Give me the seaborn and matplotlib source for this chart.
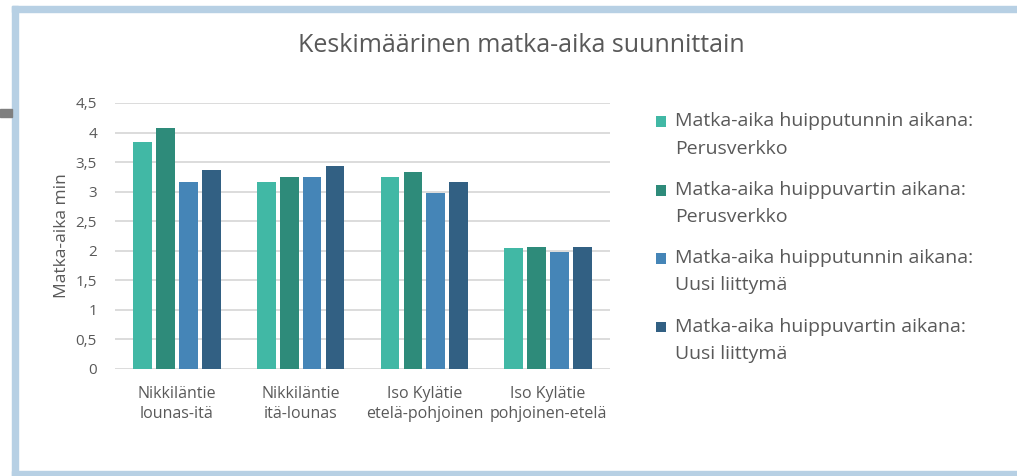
import pandas as pd
import seaborn as sns
import matplotlib.pyplot as plt
import matplotlib.ticker as mtick
from matplotlib.patches import Rectangle
from matplotlib.legend_handler import HandlerPatch

# data
categories = ["Nikkiläntie\nlounas-itä", "Nikkiläntie\nitä-lounas",
              "Iso Kylätie\netelä-pohjoinen", "Iso Kylätie\npohjoinen-etelä"]
series_names = ["Matka-aika huipputunnin aikana:\nPerusverkko",
                "Matka-aika huippuvartin aikana:\nPerusverkko",
                "Matka-aika huipputunnin aikana:\nUusi liittymä",
                "Matka-aika huippuvartin aikana:\nUusi liittymä"]
peak_hour_base = [3.84, 3.16, 3.24, 2.05]
peak_quarter_base = [4.07, 3.24, 3.34, 2.07]
peak_hour_new = [3.17, 3.24, 2.98, 1.98]
peak_quarter_new = [3.36, 3.43, 3.16, 2.06]
colors = ["#41b8a5", "#2e8b7a", "#4585b7", "#326083"]

df = pd.DataFrame({
    "Suunta": categories * 4,
    "Sarja": [s for s in series_names for _ in categories],
    "Aika": peak_hour_base + peak_quarter_base + peak_hour_new + peak_quarter_new,
})


# legend square placed next to the first text line, like Excel does
class TopSquare(HandlerPatch):
    def create_artists(self, legend, orig_handle, xdescent, ydescent,
                       width, height, fontsize, trans):
        size = 0.55 * fontsize
        p = Rectangle((-xdescent, -ydescent + height - size), size, size,
                      facecolor=orig_handle.get_facecolor(), linewidth=0,
                      transform=trans)
        return [p]


sns.set_style("white")
plt.rcParams["font.family"] = ["Open Sans", "DejaVu Sans"]
text_col = "#595959"

fig = plt.figure(figsize=(10.17, 4.76), dpi=100)
ax = fig.add_axes([115 / 1017, 1 - 369 / 476, 495 / 1017, 266 / 476])

sns.barplot(data=df, x="Suunta", y="Aika", hue="Sarja", palette=colors,
            width=0.74, gap=0.18, ax=ax, saturation=1, linewidth=0)

ax.set_ylim(0, 4.5)
ax.set_xlim(-0.5, 3.5)
ax.yaxis.set_major_locator(mtick.MultipleLocator(0.5))
ax.yaxis.set_major_formatter(mtick.FuncFormatter(
    lambda v, p: ("%g" % v).replace(".", ",")))
ax.grid(axis="y", color="#d9d9d9", linewidth=1.3)
ax.set_axisbelow(True)
for s in ax.spines.values():
    s.set_visible(False)
ax.tick_params(length=0, labelsize=11, colors=text_col)
ax.tick_params(axis="y", pad=13)
ax.tick_params(axis="x", labelsize=11.5, pad=12)
for t in ax.get_xticklabels():
    t.set_linespacing(1.35)
ax.set_xlabel("")
ax.set_ylabel("Matka-aika min", color=text_col, fontsize=12.5, labelpad=4)

handles, labels = ax.get_legend_handles_labels()
leg = ax.legend(handles, labels, loc="upper left",
                bbox_to_anchor=(638 / 1017, 1 - 95 / 476),
                bbox_transform=fig.transFigure, frameon=False, fontsize=14,
                handlelength=0.55, handleheight=2.75, handletextpad=0.45,
                labelspacing=1.2, labelcolor=text_col,
                handler_map={h: TopSquare() for h in handles})
for t in leg.get_texts():
    t.set_linespacing(1.65)

fig.text(521 / 1017, 1 - 45 / 476, "Keskimäärinen matka-aika suunnittain",
         ha="center", va="center", fontsize=18, color=text_col)

# chart frame
frame = "#b7d0e4"
fig.patches.append(Rectangle((12 / 1017, 0), 6 / 1017, 1 - 6 / 476,
                             transform=fig.transFigure, color=frame))
fig.patches.append(Rectangle((12 / 1017, 1 - 12 / 476), 1, 6 / 476,
                             transform=fig.transFigure, color=frame))
fig.patches.append(Rectangle((12 / 1017, 0), 1, 5 / 476,
                             transform=fig.transFigure, color=frame))
fig.patches.append(Rectangle((0, 1 - 117 / 476), 12 / 1017, 8 / 476,
                             transform=fig.transFigure, color="#7f7f7f"))

fig.savefig("out.png", dpi=100)
